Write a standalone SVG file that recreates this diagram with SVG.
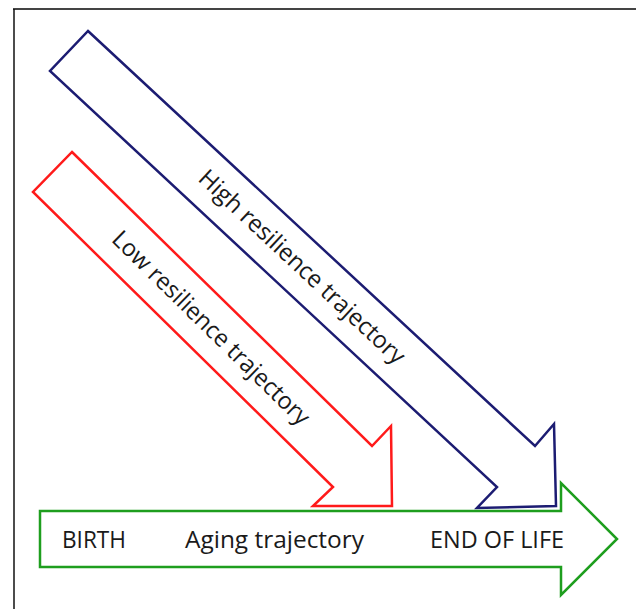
<svg xmlns="http://www.w3.org/2000/svg" width="636" height="609" viewBox="0 0 636 609">
  <style>
    .lbl { font-family: "Open Sans", "Noto Sans", "Liberation Sans", sans-serif; font-size: 24px; fill: #1a1a1a; }
    .arrow { fill: #ffffff; stroke-width: 2.5; stroke-linejoin: miter; }
    .blue { stroke: #1c1c72; }
    .red { stroke: #ff1a1a; }
    .green { stroke: #1e9e1e; }
  </style>
  <rect x="0" y="0" width="636" height="609" fill="#ffffff"/>
  <g id="frame">
    <line x1="13" y1="9" x2="636" y2="9" stroke="#444444" stroke-width="2"/>
    <line x1="14" y1="9" x2="14" y2="609" stroke="#111111" stroke-width="1.5"/>
  </g>
  <g id="high-resilience">
    <polygon class="arrow blue" points="88,31 535,446 554,424 556,506 477,508 497,487 50,71"/>
    <text class="lbl" transform="translate(302,267) rotate(43)" y="8" text-anchor="middle" textLength="272" lengthAdjust="spacingAndGlyphs">High resilience trajectory</text>
  </g>
  <g id="low-resilience">
    <polygon class="arrow red" points="72,152 372,446 391,426 392,506 313,506 333,487 33,192"/>
    <text class="lbl" transform="translate(211,328) rotate(44.4)" y="8" text-anchor="middle" textLength="266" lengthAdjust="spacingAndGlyphs">Low resilience trajectory</text>
  </g>
  <g id="aging">
    <polygon class="arrow green" points="40,511 561,511 561,483 617,539 561,595 561,567 40,567"/>
    <text class="lbl" x="62" y="548" textLength="64" lengthAdjust="spacingAndGlyphs">BIRTH</text>
    <text class="lbl" x="185" y="548" textLength="179" lengthAdjust="spacingAndGlyphs">Aging trajectory</text>
    <text class="lbl" x="430" y="548" textLength="134" lengthAdjust="spacingAndGlyphs">END OF LIFE</text>
  </g>
  <g id="connectors"></g>
</svg>
